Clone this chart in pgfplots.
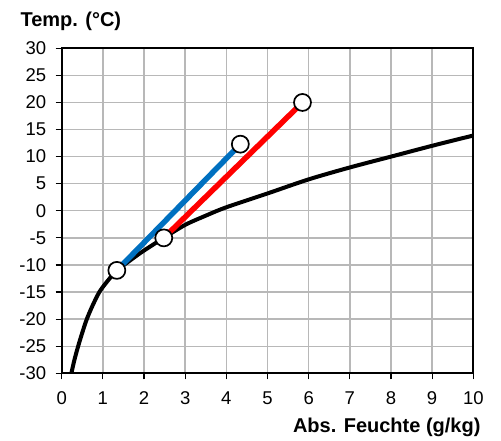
\documentclass[border=0pt]{standalone}
\usepackage{fontspec}
\setmainfont{Liberation Sans}
\usepackage{pgfplots}
\pgfplotsset{compat=1.18}
\definecolor{linblue}{HTML}{0070C0}
\definecolor{linred}{HTML}{FF0000}
\definecolor{gridgray}{HTML}{B8B8B8}

\begin{document}
\begin{tikzpicture}
\begin{axis}[
  scale only axis,
  width=411.6pt, height=325pt,
  xmin=0, xmax=10, ymin=-30, ymax=30,
  xtick={0,1,...,10},
  ytick={-30,-25,...,30},
  tick pos=left, tick align=outside,
  major tick length=6pt,
  every tick/.style={black, line width=1.2pt},
  /pgf/number format/assume math mode=true,
  tick label style={font=\fontsize{18.5}{21}\selectfont},
  xticklabel style={yshift=-9pt},
  yticklabel style={xshift=-6pt},
  axis line style={black, line width=2.2pt},
  grid=major, grid style={gridgray, line width=1.4pt},
  clip=false,
]
% saturation line
\addplot[black, line width=4pt, smooth, tension=0.5] coordinates {
  (0.235,-30) (0.31,-27.5) (0.40,-25) (0.50,-22.5) (0.61,-20) (0.75,-17.5)
  (0.915,-15) (1.11,-13) (1.34,-11) (1.62,-9.4) (1.91,-7.8) (2.2,-6.35)
  (2.48,-5) (3.0,-2.6) (3.5,-0.9) (4.0,0.65) (5.0,3.2) (6.0,5.8)
  (7.0,8.0) (8.0,10.0) (9.0,12.0) (10.0,13.9)};
% red: -5 -> 20
\addplot[linred, line width=5.5pt] coordinates {(2.48,-5) (5.85,20)};
% blue: -11 -> 12.3
\addplot[linblue, line width=5.5pt] coordinates {(1.34,-11) (4.34,12.3)};
% state points
\addplot[only marks, mark=*, mark size=8.5pt,
  mark options={fill=white, draw=black, line width=1.7pt}] coordinates {
  (1.34,-11) (2.48,-5) (4.34,12.3) (5.85,20)};
\end{axis}
\node[anchor=base east, font=\fontsize{20}{24}\selectfont\bfseries]
  at ([xshift=10.7pt,yshift=-59.7pt]current axis.south east) {Abs. Feuchte (g/kg)};
\node[anchor=base west, font=\fontsize{20}{24}\selectfont\bfseries]
  at ([xshift=-44.7pt,yshift=21.6pt]current axis.north west) {Temp. (°C)};
\path ([xshift=-61.7pt,yshift=-65.7pt]current axis.south west)
  rectangle ([xshift=27.7pt,yshift=48.3pt]current axis.north east);
\end{tikzpicture}
\end{document}
